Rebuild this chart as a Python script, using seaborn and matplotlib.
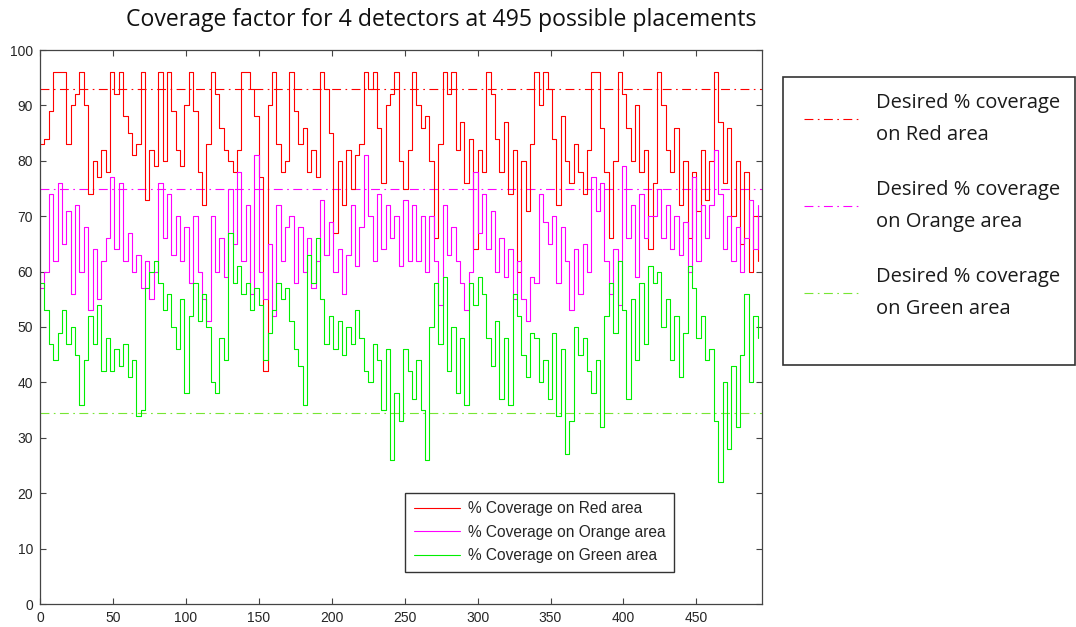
import matplotlib
matplotlib.use('Agg')
import matplotlib.pyplot as plt
from matplotlib.patches import Rectangle
import numpy as np
import pandas as pd
import seaborn as sns

# placement index, every 3rd placement
placements = np.arange(0, 495, 3)

# % coverage on red area
red_cov = [83, 84, 89, 96, 96, 96, 83, 90, 92, 96, 90, 74, 80, 77, 82, 78, 96, 92, 96, 88, 85, 81, 83, 96, 73, 82, 79, 96, 80,
           96, 89, 82, 79, 90, 96, 89, 78, 72, 83, 96, 92, 86, 82, 80, 78, 82, 96, 96, 93, 88, 77, 42, 90, 96, 83, 78, 80,
           96, 89, 83, 86, 78, 82, 77, 96, 93, 85, 67, 80, 72, 82, 75, 81, 83, 96, 93, 96, 86, 76, 90, 92, 96, 80, 75, 82,
           96, 90, 86, 88, 80, 66, 83, 96, 92, 96, 82, 87, 76, 84, 64, 82, 78, 96, 92, 84, 78, 87, 74, 82, 60, 80, 71, 83,
           96, 90, 96, 93, 84, 72, 88, 80, 76, 83, 78, 74, 82, 96, 96, 86, 78, 66, 80, 96, 92, 86, 80, 90, 78, 82, 64,
           76, 96, 90, 82, 78, 86, 72, 80, 66, 78, 71, 82, 73, 80, 96, 87, 76, 86, 70, 80, 65, 78, 60, 70, 62]

# % coverage on orange area
orange_cov = [57, 60, 74, 62, 76, 65, 71, 56, 72, 60, 68, 53, 64, 55, 62, 66, 77, 64, 76, 62, 67, 60, 63, 57, 62, 55, 60, 76, 66,
              74, 63, 70, 62, 68, 58, 70, 60, 55, 51, 70, 60, 66, 59, 75, 65, 78, 62, 72, 56, 81, 60, 55, 65, 52, 72, 62, 68,
              70, 58, 68, 60, 66, 57, 62, 73, 63, 69, 60, 64, 56, 63, 72, 61, 68, 81, 70, 62, 74, 64, 72, 66, 70, 61, 73, 62,
              72, 62, 70, 60, 70, 62, 54, 72, 63, 68, 62, 58, 53, 60, 78, 67, 74, 64, 71, 60, 66, 59, 64, 55, 62, 55, 51, 59,
              58, 74, 69, 65, 70, 58, 68, 62, 53, 64, 56, 65, 60, 77, 71, 76, 62, 56, 64, 54, 79, 66, 72, 59, 74, 66, 70,
              70, 75, 66, 72, 64, 70, 63, 69, 60, 77, 62, 72, 66, 72, 82, 74, 64, 70, 62, 68, 60, 66, 73, 64, 72]

# % coverage on green area
green_cov = [58, 53, 47, 44, 49, 53, 47, 50, 45, 36, 44, 52, 47, 54, 42, 48, 42, 46, 43, 47, 41, 44, 34, 35, 57, 60, 62, 58, 53,
             56, 50, 46, 55, 38, 52, 58, 51, 56, 50, 40, 38, 48, 44, 67, 58, 61, 56, 58, 53, 57, 54, 44, 49, 53, 58, 55, 57,
             51, 46, 43, 36, 63, 58, 66, 55, 47, 52, 46, 51, 45, 50, 47, 53, 48, 42, 40, 47, 44, 35, 46, 26, 38, 33, 46, 42,
             37, 44, 35, 26, 50, 58, 47, 59, 42, 50, 38, 48, 36, 58, 54, 59, 56, 48, 43, 51, 37, 48, 36, 56, 52, 45, 41, 49,
             48, 40, 44, 37, 49, 34, 46, 27, 33, 50, 45, 48, 42, 38, 44, 32, 52, 58, 49, 62, 53, 37, 55, 44, 58, 47, 61,
             58, 60, 50, 55, 44, 52, 41, 49, 61, 57, 48, 52, 44, 46, 33, 22, 40, 28, 43, 32, 45, 56, 40, 52, 48]

# desired coverage levels
desired_red = 93
desired_orange = 75
desired_green = 34.5

series_labels = ['% Coverage on Red area', '% Coverage on Orange area', '% Coverage on Green area']
desired_labels = ['Desired % coverage\non Red area', 'Desired % coverage\non Orange area',
                  'Desired % coverage\non Green area']

df = pd.DataFrame({'placement': placements, 'red': red_cov, 'orange': orange_cov, 'green': green_cov})

sns.set_style('white')
plt.rcParams['font.family'] = ['Liberation Sans', 'DejaVu Sans']

fig = plt.figure(figsize=(10.76, 6.27), dpi=100)
ax = fig.add_axes([40 / 1076, 23 / 627, 722 / 1076, 554 / 627])

dashdot = (0, (8, 4, 1.5, 4))
ref_red = ax.axhline(desired_red, color='#ff0000', linewidth=0.8, linestyle=dashdot)
ref_orange = ax.axhline(desired_orange, color='#ff00ff', linewidth=0.8, linestyle=dashdot)
ref_green = ax.axhline(desired_green, color='#77e633', linewidth=0.8, linestyle=dashdot)

sns.lineplot(data=df, x='placement', y='red', color='#ff0000', linewidth=0.8, drawstyle='steps-post', ax=ax)
sns.lineplot(data=df, x='placement', y='orange', color='#ff00ff', linewidth=0.8, drawstyle='steps-post', ax=ax)
sns.lineplot(data=df, x='placement', y='green', color='#00ee00', linewidth=0.8, drawstyle='steps-post', ax=ax)
series_lines = ax.get_lines()[3:6]

ax.set_xlim(0, 495)
ax.set_ylim(0, 100)
ax.set_xticks(range(0, 451, 50))
ax.set_yticks(range(0, 101, 10))
ax.set_xlabel('')
ax.set_ylabel('')
ax.tick_params(direction='in', top=True, right=True, bottom=True, left=True, length=4, width=0.8,
               color='#444444', labelsize=10, pad=5)
for s in ax.spines.values():
    s.set_visible(True)
    s.set_color('#444444')
    s.set_linewidth(0.9)

ax.legend(series_lines, series_labels, loc='lower left', bbox_to_anchor=(0.5055, 0.0578), borderaxespad=0,
          fancybox=False, edgecolor='#333333', framealpha=1, fontsize=11.2, handlelength=3.0,
          handletextpad=0.5, labelspacing=0.55, borderpad=0.55)

fig.text(0.41, 0.968, 'Coverage factor for 4 detectors at 495 possible placements', ha='center', va='center',
         fontsize=16.6, family='Open Sans', color='#111111')

# box of the outside legend
box = Rectangle((783 / 1076, 1 - 365 / 627), (1075 - 783) / 1076, (365 - 77) / 627, transform=fig.transFigure,
                fill=False, edgecolor='#333333', linewidth=1.2)
fig.add_artist(box)
leg = fig.legend([ref_red, ref_orange, ref_green], desired_labels, loc='upper left',
                 bbox_to_anchor=(786 / 1076, 1 - 75 / 627), frameon=False,
                 prop={'family': 'Open Sans', 'size': 14.5}, handlelength=2.75, handletextpad=0.8,
                 labelspacing=1.75)
for t in leg.get_texts():
    t.set_linespacing(1.78)
    t.set_color('#1a1a1a')

fig.savefig('out.png', dpi=100)
